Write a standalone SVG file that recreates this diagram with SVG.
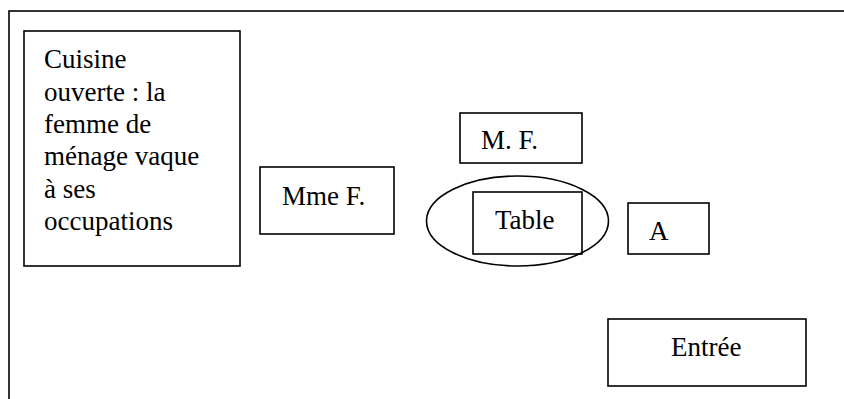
<svg xmlns="http://www.w3.org/2000/svg" width="844" height="399" viewBox="0 0 844 399">
<style>
.box{fill:none;stroke:#000;stroke-width:1.6}
.t{font-family:"Liberation Serif","Times New Roman",serif;font-size:27px;fill:#000}
</style>
<rect width="844" height="399" fill="#fff"/>
<g id="frame"><rect class="box" x="9" y="11" width="845" height="400"/></g>
<g id="cuisine">
<rect class="box" x="24" y="31" width="216" height="235"/>
<text class="t" x="44" y="68">Cuisine</text>
<text class="t" x="44" y="100.5">ouverte : la</text>
<text class="t" x="44" y="133">femme de</text>
<text class="t" x="44" y="165">ménage vaque</text>
<text class="t" x="44" y="197.5">à ses</text>
<text class="t" x="44" y="230">occupations</text>
</g>
<g id="mmeF">
<rect class="box" x="260" y="167" width="134" height="67"/>
<text class="t" x="282" y="205">Mme F.</text>
</g>
<g id="mF">
<rect class="box" x="460" y="113" width="122" height="50"/>
<text class="t" x="481" y="149">M. F.</text>
</g>
<g id="tableEllipse">
<ellipse class="box" cx="517.5" cy="221" rx="91" ry="45"/>
</g>
<g id="table">
<rect class="box" x="473" y="192" width="109" height="62"/>
<text class="t" x="495" y="229">Table</text>
</g>
<g id="A">
<rect class="box" x="628" y="203" width="81" height="51"/>
<text class="t" x="649" y="240">A</text>
</g>
<g id="entree">
<rect class="box" x="608" y="319" width="198" height="67"/>
<text class="t" x="671" y="356">Entrée</text>
</g>
<g id="connectors"/>
</svg>
